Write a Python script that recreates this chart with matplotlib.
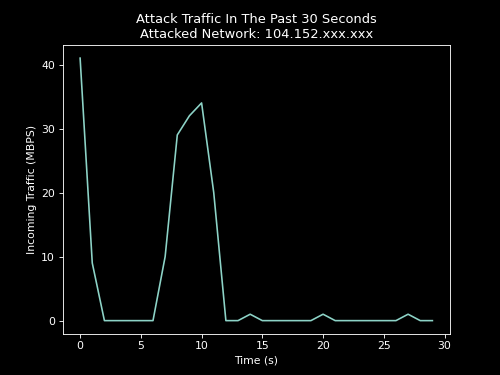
import matplotlib
matplotlib.use("Agg")
import matplotlib.pyplot as plt

plt.style.use("dark_background")

seconds = list(range(30))
traffic = [41, 9, 0, 0, 0, 0, 0, 10, 29, 32, 34, 20, 0, 0, 1, 0, 0, 0, 0, 0,
           1, 0, 0, 0, 0, 0, 0, 1, 0, 0]

fig, ax = plt.subplots(figsize=(6.4, 4.8), dpi=78.125)
ax.plot(seconds, traffic)
ax.set_title("Attack Traffic In The Past 30 Seconds\nAttacked Network: 104.152.xxx.xxx")
ax.set_xlabel("Time (s)")
ax.set_ylabel("Incoming Traffic (MBPS)")
fig.savefig("out.png")
